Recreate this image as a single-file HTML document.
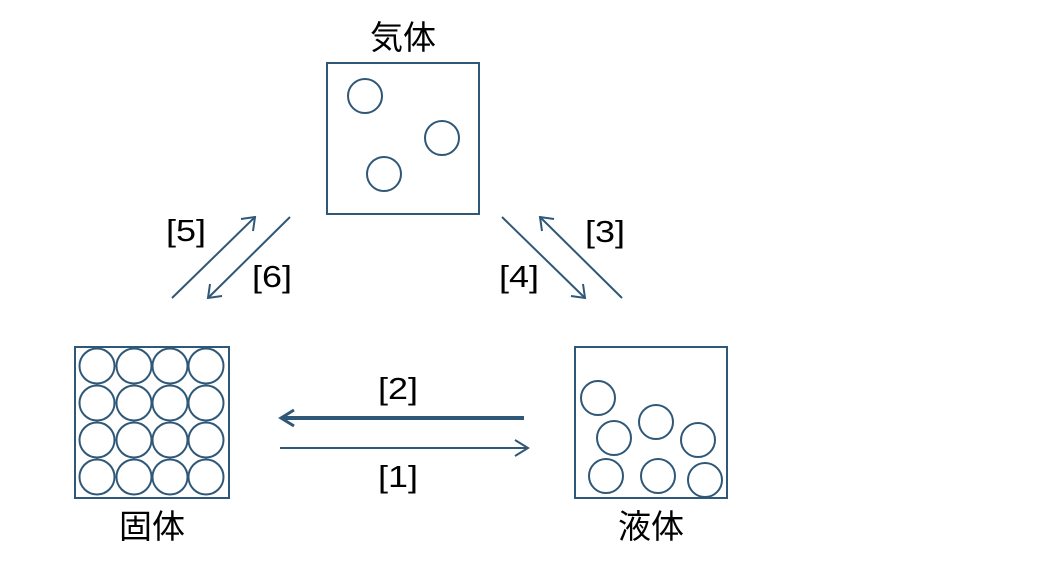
<!DOCTYPE html>
<html><head><meta charset="utf-8"><style>
html,body{margin:0;padding:0;background:#fff;}
svg{display:block}
text{font-family:"Liberation Sans","Noto Sans CJK JP",sans-serif;fill:#000}
</style></head><body>
<svg width="1060" height="568" viewBox="0 0 1060 568" xmlns="http://www.w3.org/2000/svg">
<g fill="none" stroke="#2f5878" stroke-width="2">
<rect x="327" y="63" width="152" height="151"/>
<circle cx="365" cy="96" r="17"/><circle cx="442" cy="138" r="17"/><circle cx="384" cy="174" r="17"/>
<rect x="75" y="347" width="154" height="151"/>
<g>
<circle cx="97" cy="366" r="17.5"/><circle cx="134" cy="366" r="17.5"/><circle cx="170" cy="366" r="17.5"/><circle cx="206" cy="366" r="17.5"/>
<circle cx="97" cy="403" r="17.5"/><circle cx="134" cy="403" r="17.5"/><circle cx="170" cy="403" r="17.5"/><circle cx="206" cy="403" r="17.5"/>
<circle cx="97" cy="440" r="17.5"/><circle cx="134" cy="440" r="17.5"/><circle cx="170" cy="440" r="17.5"/><circle cx="206" cy="440" r="17.5"/>
<circle cx="97" cy="477" r="17.5"/><circle cx="134" cy="477" r="17.5"/><circle cx="170" cy="477" r="17.5"/><circle cx="206" cy="477" r="17.5"/>
</g>
<rect x="575" y="347" width="152" height="151"/>
<circle cx="598" cy="398" r="17"/><circle cx="614" cy="438" r="17"/><circle cx="656" cy="422" r="17"/><circle cx="698" cy="440" r="17"/>
<circle cx="606" cy="476" r="17"/><circle cx="658" cy="476" r="17"/><circle cx="705" cy="480" r="17"/>
<line x1="524" y1="418" x2="282" y2="418" stroke-width="4"/>
<polyline points="294,410 281,418 294,426" stroke-width="3"/>
<line x1="280" y1="448" x2="527" y2="448"/>
<polyline points="515,440 528,448 515,456"/>
<line x1="172" y1="298" x2="255" y2="217"/>
<polyline points="241,219 255,217 253,231"/>
<line x1="290" y1="217" x2="208" y2="298"/>
<polyline points="210,284 208,298 222,296"/>
<line x1="502" y1="217" x2="585" y2="298"/>
<polyline points="571,296 585,298 583,284"/>
<line x1="622" y1="298" x2="540" y2="217"/>
<polyline points="542,231 540,217 554,219"/>
</g>
<g font-size="31" text-anchor="middle">
<text x="186" y="241" textLength="40" lengthAdjust="spacingAndGlyphs">[5]</text>
<text x="272" y="287" textLength="40" lengthAdjust="spacingAndGlyphs">[6]</text>
<text x="519" y="287" textLength="40" lengthAdjust="spacingAndGlyphs">[4]</text>
<text x="605" y="242" textLength="40" lengthAdjust="spacingAndGlyphs">[3]</text>
<text x="398" y="399" textLength="40" lengthAdjust="spacingAndGlyphs">[2]</text>
<text x="398" y="487" textLength="40" lengthAdjust="spacingAndGlyphs">[1]</text>
</g>
<g font-size="33" text-anchor="middle">
<text x="403" y="49">気体</text>
<text x="152" y="538">固体</text>
<text x="651" y="538">液体</text>
</g>
</svg>
</body></html>
